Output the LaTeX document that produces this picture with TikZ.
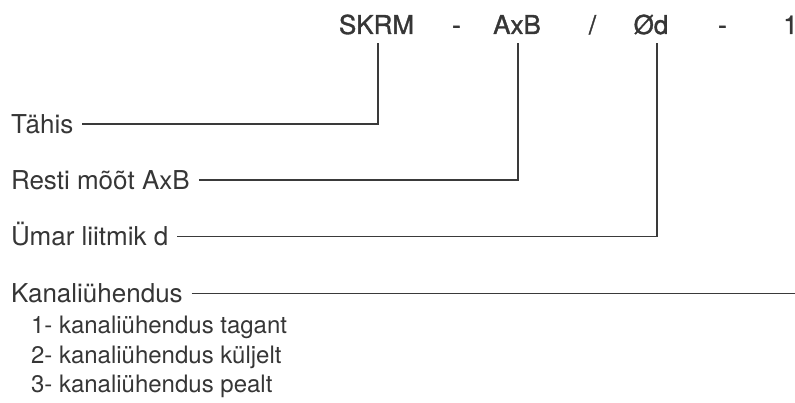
\documentclass[tikz,border=0pt]{standalone}
\usepackage{fontspec}
\setmainfont{TeX Gyre Heros}
\newfontfamily\headfont[FakeBold=1.3]{TeX Gyre Heros}
\usetikzlibrary{calc}
\definecolor{ink}{HTML}{363636}
\definecolor{wire}{HTML}{3A3A3A}
\tikzset{
  head/.style={inner sep=0pt, outer sep=0pt, anchor=base, text=ink, font=\headfont\fontsize{26}{30}\selectfont, text height=18.7pt, text depth=0pt},
  lab/.style={inner sep=0pt, outer sep=0pt, anchor=base west, text=ink, font=\fontsize{26}{30}\selectfont, text height=18.7pt, text depth=0pt},
  sub/.style={inner sep=0pt, outer sep=0pt, anchor=base west, text=ink, font=\fontsize{24}{28}\selectfont},
  wireline/.style={draw=wire, line width=1.7pt}
}
\begin{document}
\begin{tikzpicture}[x=1pt, y=-1pt]
\useasboundingbox (0,0) rectangle (795,403);
% header
\node[head] (skrm) at (376.5,34) {SKRM};
\node[head] (d1)   at (456.5,34) {-};
\node[head] (axb)  at (517,34) {AxB};
\node[head] (sl)   at (592.5,34) {/};
\node[head] (od)   at (651,34) {Ød};
\node[head] (d2)   at (722.5,34) {-};
\node[head] (one)  at (790.5,34) {1};
% labels
\node[lab] (tahis) at (11,133.5) {Tähis};
\node[lab] (resti) at (11,189.5) {Resti mõõt AxB};
\node[lab] (umar)  at (11,246) {Ümar liitmik d};
\node[lab] (kanal) at (11,303) {Kanaliühendus};
\node[sub] (k1) at (31,333.5) {1- kanaliühendus tagant};
\node[sub] (k2) at (31,363) {2- kanaliühendus küljelt};
\node[sub] (k3) at (31,392.5) {3- kanaliühendus pealt};
% top ends of the leaders
\coordinate (cs) at ($(skrm.base)+(1.5,9)$);
\coordinate (ca) at ($(axb.base)+(1,9)$);
\coordinate (co) at ($(od.base)+(6,9)$);
\coordinate (re) at (795,0);
% leaders
\draw[wireline] ([xshift=9pt]tahis.east) -| (cs);
\draw[wireline] ([xshift=9pt]resti.east) -| (ca);
\draw[wireline] ([xshift=9pt]umar.east) -| (co);
\draw[wireline] ([xshift=9pt]kanal.east) -- (kanal.east -| re);
\end{tikzpicture}
\end{document}
